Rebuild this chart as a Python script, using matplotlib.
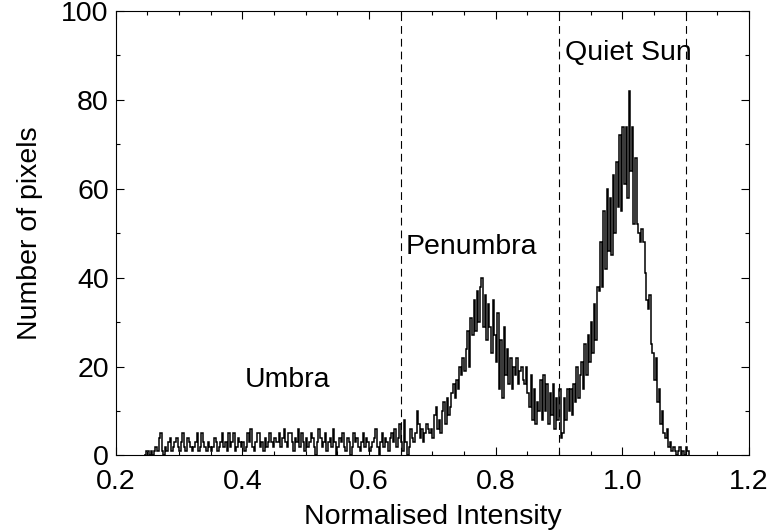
import numpy as np
import matplotlib
matplotlib.use("Agg")
import matplotlib.pyplot as plt
from matplotlib.ticker import MultipleLocator

plt.rcParams['font.family'] = ['Liberation Sans', 'DejaVu Sans']

# histogram bins: 0.245 .. 1.10, width 0.0025
bin_start = 0.245
bin_width = 0.0025

umbra_counts = [0, 1, 1, 0, 1, 0, 1, 2, 1, 4, 5, 1,
                0, 2, 1, 3, 4, 1, 2, 3, 4, 2,
                1, 3, 5, 2, 1, 4, 3, 2, 1, 2,
                3, 5, 1, 2, 5, 3, 2, 1, 3, 2,
                1, 2, 4, 3, 1, 2, 3, 5, 2, 3,
                1, 5, 2, 3, 5, 1, 2, 4, 3, 2,
                3, 1, 2, 5, 3, 6, 2, 1, 3, 5,
                5, 2, 3, 1, 4, 2, 3, 5, 3, 2,
                4, 3,
                3, 5, 2, 4, 6, 3, 2, 5, 5, 3,
                1, 4, 3, 6, 2, 5, 3, 1, 4, 2,
                3, 5, 4, 2, 0, 3, 6, 4, 2, 3,
                5, 1, 3, 4, 2, 6, 3, 0, 2, 4,
                3, 5, 2, 1, 4, 3, 0, 2, 5, 3,
                4, 2, 1, 3, 5, 2, 4, 3, 1, 2,
                3, 4, 6, 2, 0, 3, 5, 2, 4, 3,
                1, 4, 5, 3, 6, 2, 4, 7, 3, 1]

penumbra_counts = [8, 3, 0, 2, 6, 4, 3, 5, 10, 7,
                   4, 6, 3, 5, 7, 6, 5, 6, 4, 9,
                   11, 6, 8, 5, 10, 12, 7, 13, 9, 11,
                   14, 16, 13, 17, 15, 20, 18, 22, 19, 24,
                   28, 20, 31, 27, 35, 28, 37, 30, 38, 40,
                   29, 36, 26, 34, 29, 23, 35, 27, 21, 32,
                   15, 26, 13, 29, 18, 24, 16, 22, 15, 20,
                   18, 22, 16, 19, 20, 17, 16, 20, 14, 11,
                   18, 8, 15, 7, 12, 10, 17, 8, 18, 10,
                   16, 7, 14, 9, 16, 6, 13, 8, 15, 4]

quiet_counts = [5, 13, 8, 15, 10, 15, 9, 16, 12, 20,
                13, 18, 21, 15, 25, 18, 27, 21, 30, 23,
                34, 26, 38, 37, 48, 38, 55, 42, 60, 46,
                58, 45, 63, 50, 66, 56, 72, 55, 74, 61,
                74, 58, 82, 64, 74, 52, 67, 52, 50, 48,
                51, 48, 41, 35, 33, 36, 25, 23, 17, 22,
                12, 15, 7, 10, 5, 4, 6, 2, 3, 1,
                2, 1, 0, 1, 2, 0, 1, 0, 2, 1]

boundaries = [0.65, 0.9, 1.1]

counts = np.array(umbra_counts + penumbra_counts + quiet_counts)
edges = bin_start + bin_width * np.arange(len(counts) + 1)

fig = plt.figure(figsize=(7.67, 5.31), dpi=100)
ax = fig.add_axes([0.151, 0.1422, 0.8255, 0.8371])

ax.stairs(counts, edges, color='black', lw=1.1)

for b in boundaries:
    ax.axvline(b, color='black', lw=0.8, dashes=(7, 4.5))

ax.set_xlim(0.2, 1.2)
ax.set_ylim(0, 100)
ax.xaxis.set_major_locator(MultipleLocator(0.2))
ax.xaxis.set_minor_locator(MultipleLocator(0.05))
ax.yaxis.set_major_locator(MultipleLocator(20))
ax.yaxis.set_minor_locator(MultipleLocator(10))
ax.set_xticks(np.arange(0.2, 1.21, 0.2))
ax.set_xticklabels(['0.2', '0.4', '0.6', '0.8', '1.0', '1.2'])
ax.tick_params(which='both', direction='in', top=True, right=True,
               labelsize=20.5, width=0.8)
ax.tick_params(which='major', length=6)
ax.tick_params(which='minor', length=3)
ax.tick_params(axis='x', which='major', pad=10)
ax.tick_params(axis='y', which='major', pad=5)
for s in ax.spines.values():
    s.set_linewidth(0.8)

ax.set_xlabel('Normalised Intensity', fontsize=20.5, labelpad=6)
ax.set_ylabel('Number of pixels', fontsize=20.5, labelpad=13)

ax.text(0.403, 17, 'Umbra', fontsize=20.5, va='center', ha='left')
ax.text(0.657, 47, 'Penumbra', fontsize=20.5, va='center', ha='left')
ax.text(0.910, 90.5, 'Quiet Sun', fontsize=20.5, va='center', ha='left')

fig.savefig('out.png', dpi=100)
